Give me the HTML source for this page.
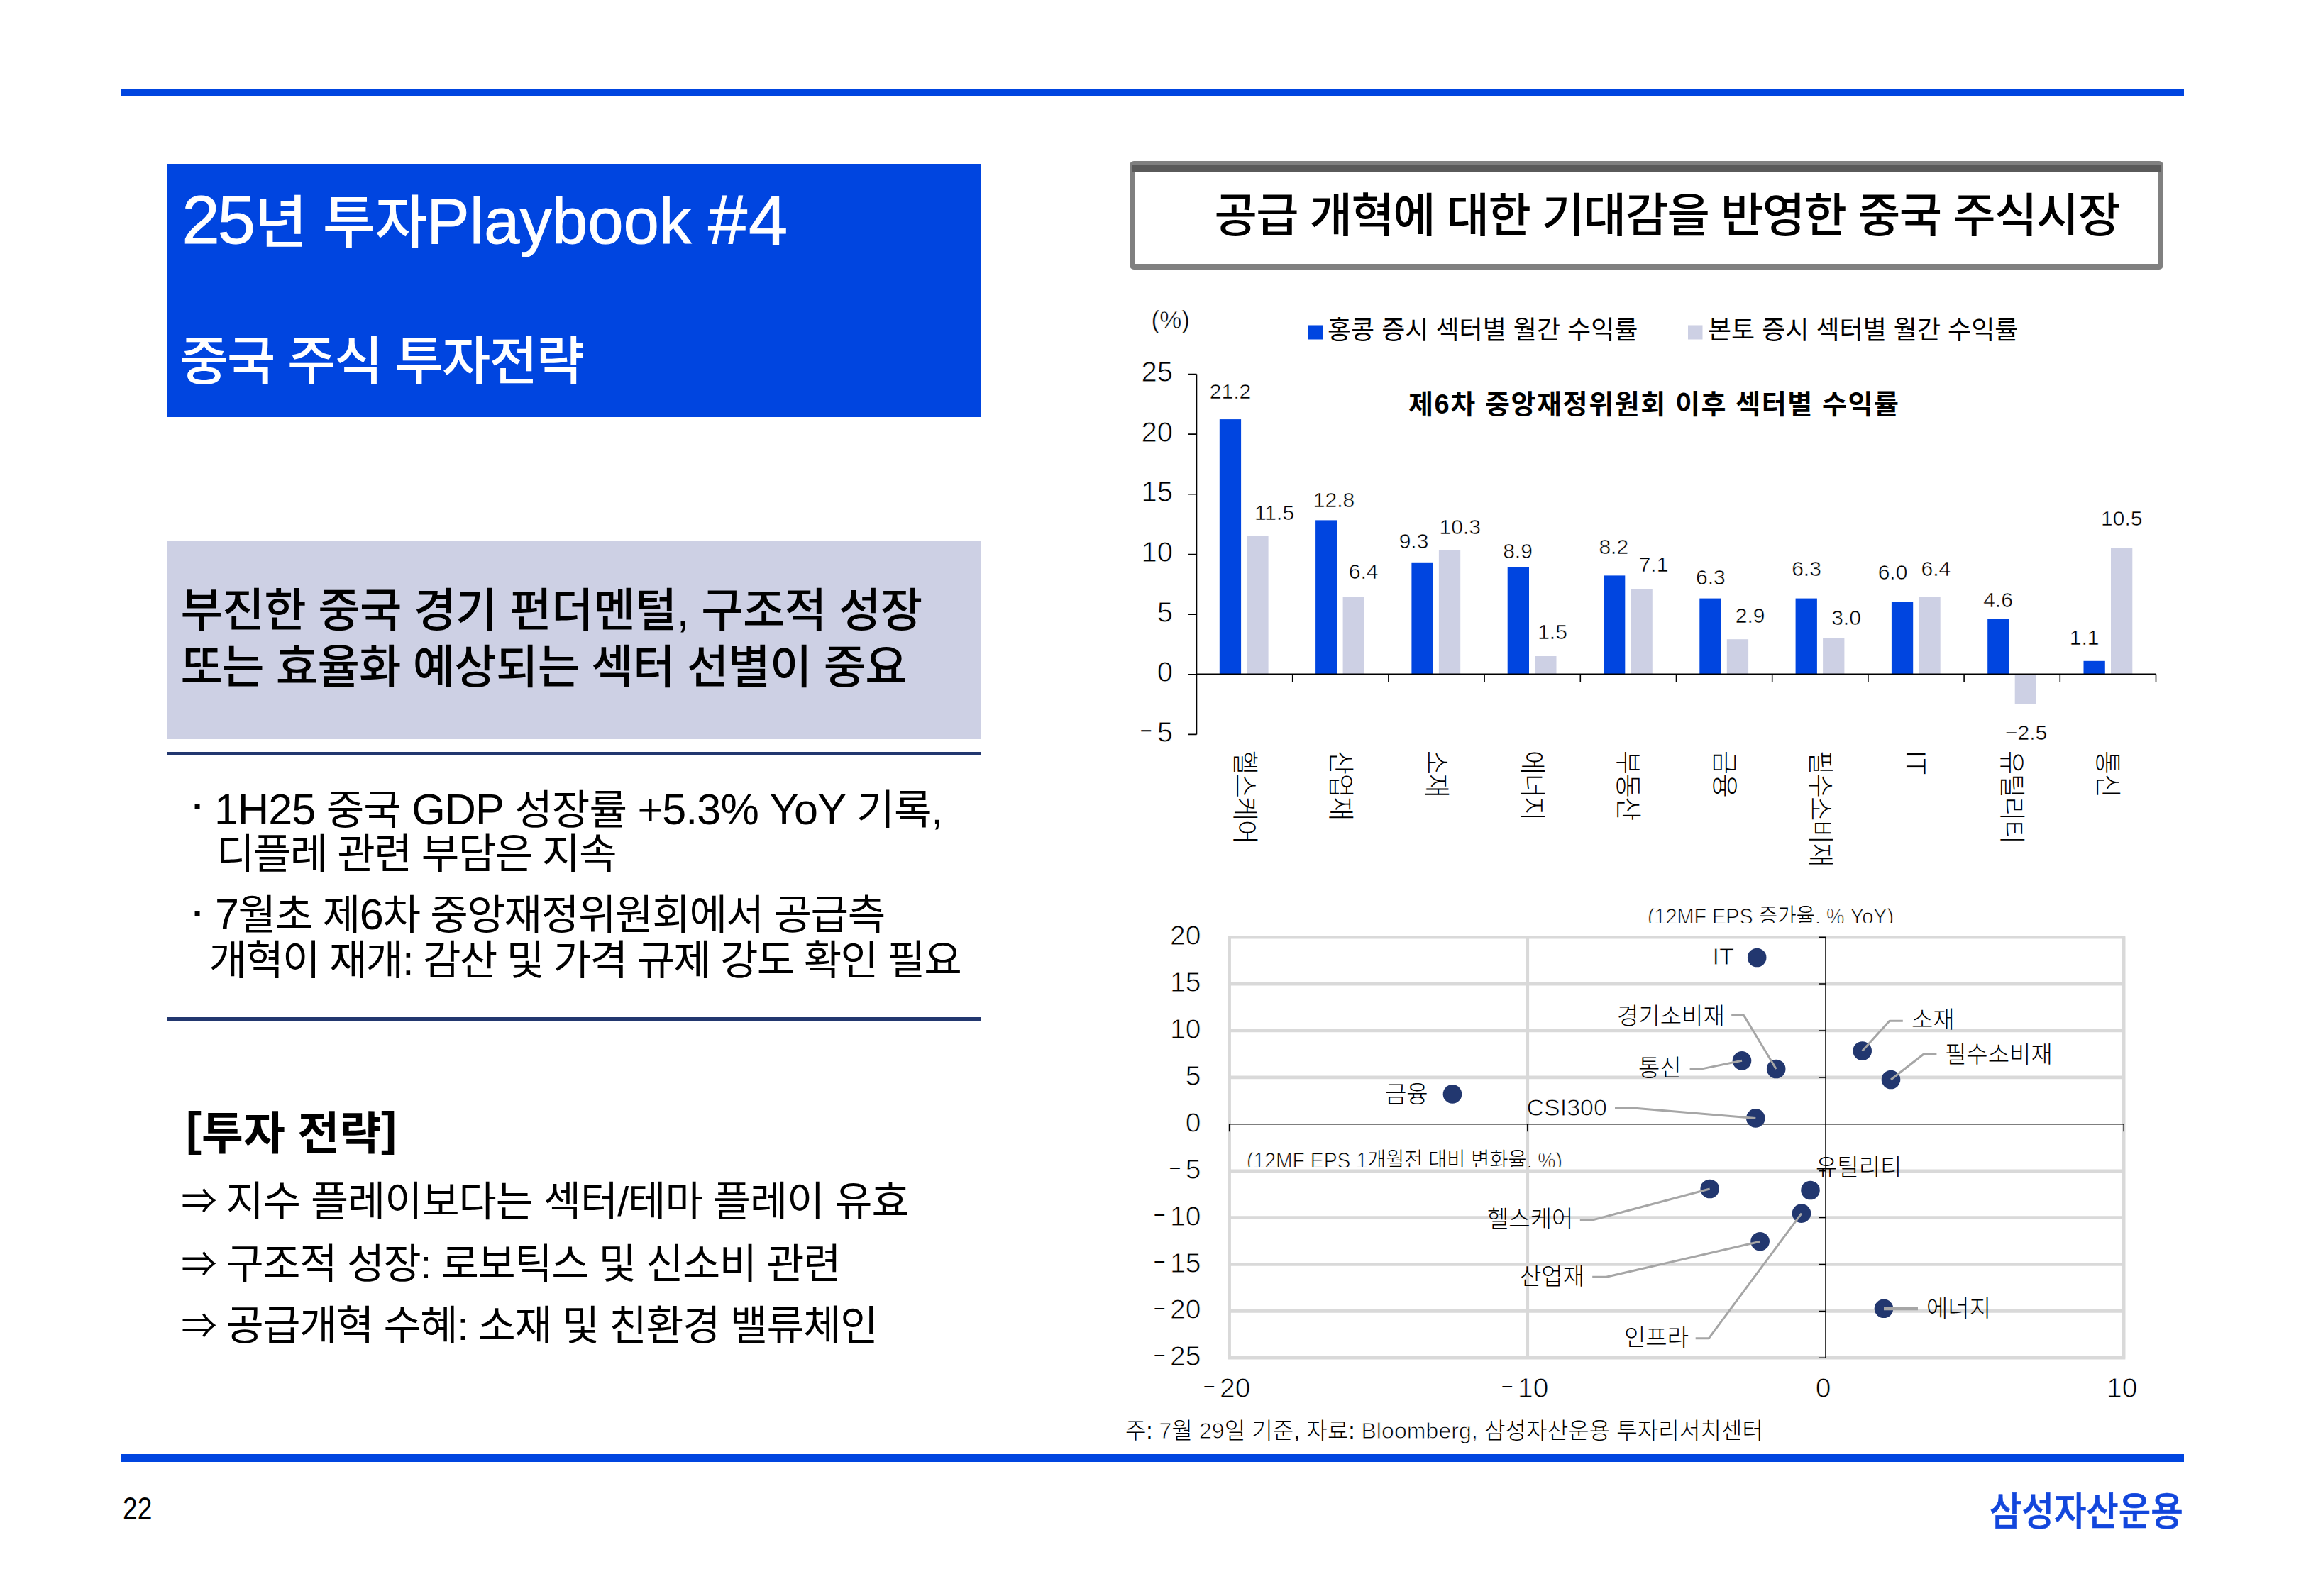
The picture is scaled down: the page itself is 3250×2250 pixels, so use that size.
<!DOCTYPE html>
<html lang="ko"><head><meta charset="utf-8"><title>slide</title><style>
html,body{margin:0;padding:0;background:#fff;}
body{width:3250px;height:2250px;position:relative;overflow:hidden;font-family:"Liberation Sans","Noto Sans CJK KR",sans-serif;color:#000;}
.abs{position:absolute;white-space:nowrap;line-height:1;}
svg text{font-family:"Liberation Sans","Noto Sans CJK KR",sans-serif;}
.th{stroke:#fff;stroke-width:0.8px;}
.th2{stroke:#fff;stroke-width:0.5px;}
</style></head><body>
<div class="abs" style="left:171px;top:126px;width:2907px;height:10px;background:#0045E0;"></div>
<div class="abs" style="left:171px;top:2050px;width:2907px;height:11px;background:#0045E0;"></div>
<div class="abs" style="left:235px;top:231px;width:1148px;height:357px;background:#0045E0;"></div>
<div class="abs" style="left:256.5px;top:262.0px;font-size:95.62px;font-weight:400;color:#fff;-webkit-text-stroke:1px #fff;letter-spacing:-2.99px;">25</div>
<div class="abs" style="left:359.0px;top:273.5px;font-size:80.43px;font-weight:500;color:#fff;letter-spacing:-0.30px;">년 투자</div>
<div class="abs" style="left:601.5px;top:267.5px;font-size:89.95px;font-weight:400;color:#fff;-webkit-text-stroke:1px #fff;letter-spacing:0.39px;">Playbook</div>
<div class="abs" style="left:998.0px;top:260.0px;font-size:99.08px;font-weight:400;color:#fff;-webkit-text-stroke:1px #fff;letter-spacing:1.91px;">#4</div>
<div class="abs" style="left:253.5px;top:473.0px;font-size:74.31px;font-weight:500;color:#fff;letter-spacing:-1.94px;">중국 주식 투자전략</div>
<div class="abs" style="left:235px;top:762px;width:1148px;height:280px;background:#CDD0E4;"></div>
<div class="abs" style="left:254.5px;top:829.0px;font-size:64.63px;font-weight:500;color:#000;letter-spacing:-0.62px;">부진한 중국 경기 펀더멘털, 구조적 성장</div>
<div class="abs" style="left:254.5px;top:908.5px;font-size:64.63px;font-weight:500;color:#000;letter-spacing:-0.83px;">또는 효율화 예상되는 섹터 선별이 중요</div>
<div class="abs" style="left:235px;top:1060px;width:1148px;height:5px;background:#22376F;"></div>
<div class="abs" style="left:235px;top:1434px;width:1148px;height:5px;background:#22376F;"></div>
<div class="abs" style="left:265.8px;top:1094.8px;font-size:74.0px;font-weight:400;color:#000;">·</div>
<div class="abs" style="left:265.8px;top:1246.0px;font-size:74.0px;font-weight:400;color:#000;">·</div>
<div class="abs" style="left:302.0px;top:1110.5px;font-size:58.22px;font-weight:400;color:#000;letter-spacing:-0.92px;"><span style="font-size:1.050em">1H25</span> 중국 <span style="font-size:1.050em">GDP</span> 성장률 <span style="font-size:1.050em">+5.3% YoY</span> 기록,</div>
<div class="abs" style="left:305.0px;top:1175.0px;font-size:58.22px;font-weight:400;color:#000;letter-spacing:-1.63px;">디플레 관련 부담은 지속</div>
<div class="abs" style="left:303.0px;top:1259.0px;font-size:58.22px;font-weight:400;color:#000;letter-spacing:-1.41px;"><span style="font-size:1.050em">7</span>월초 제<span style="font-size:1.050em">6</span>차 중앙재정위원회에서 공급측</div>
<div class="abs" style="left:294.5px;top:1324.5px;font-size:58.22px;font-weight:400;color:#000;letter-spacing:-1.86px;">개혁이 재개: 감산 및 가격 규제 강도 확인 필요</div>
<div class="abs" style="left:262.0px;top:1558.0px;font-size:66.18px;font-weight:700;color:#000;">[</div>
<div class="abs" style="left:284.0px;top:1566.0px;font-size:64.04px;font-weight:700;color:#000;">투자 전략</div>
<div class="abs" style="left:537.0px;top:1558.0px;font-size:66.18px;font-weight:700;color:#000;">]</div>
<div class="abs" style="left:318.5px;top:1665.5px;font-size:57.83px;font-weight:400;color:#000;letter-spacing:-1.03px;">지수 플레이보다는 섹터/테마 플레이 유효</div>
<div class="abs" style="left:318.5px;top:1754.0px;font-size:57.83px;font-weight:400;color:#000;letter-spacing:-1.38px;">구조적 성장: 로보틱스 및 신소비 관련</div>
<div class="abs" style="left:318.5px;top:1841.0px;font-size:57.83px;font-weight:400;color:#000;letter-spacing:-1.37px;">공급개혁 수혜: 소재 및 친환경 밸류체인</div>
<div class="abs" style="left:255.5px;top:1664.1px;font-size:50.14px;font-weight:400;color:#000;font-family:'Noto Sans CJK KR',sans-serif;">⇒</div>
<div class="abs" style="left:255.5px;top:1752.6px;font-size:50.14px;font-weight:400;color:#000;font-family:'Noto Sans CJK KR',sans-serif;">⇒</div>
<div class="abs" style="left:255.5px;top:1840.1px;font-size:50.14px;font-weight:400;color:#000;font-family:'Noto Sans CJK KR',sans-serif;">⇒</div>
<div class="abs" style="left:173.0px;top:2105.0px;font-size:44.2px;font-weight:400;color:#000;transform:scaleX(0.8396);transform-origin:0 0;">22</div>
<div class="abs" style="left:2804.0px;top:2104.0px;font-size:54.69px;font-weight:500;color:#1246DC;-webkit-text-stroke:0.7px #1246DC;transform:scaleX(0.9035);transform-origin:0 0;">삼성자산운용</div>
<div class="abs" style="left:1592px;top:227px;width:1441px;height:137px;border:8px solid #808080;border-radius:6px;background:#fff;"></div>
<div class="abs" style="left:1595px;top:232px;width:1450px;height:10px;background:#5a5a5a;"></div>
<div class="abs" style="left:1711.5px;top:271.5px;font-size:65.58px;font-weight:500;color:#000;letter-spacing:-1.54px;">공급 개혁에 대한 기대감을 반영한 중국 주식시장</div>
<svg class="abs" style="left:0;top:0" width="3250" height="2250" viewBox="0 0 3250 2250">
<rect x="1718.8" y="591.1" width="30.3" height="359.3" fill="#0045E0"/>
<rect x="1757.3" y="755.5" width="30.3" height="194.9" fill="#CDD0E4"/>
<rect x="1854.1" y="733.4" width="30.3" height="217.0" fill="#0045E0"/>
<rect x="1892.6" y="841.9" width="30.3" height="108.5" fill="#CDD0E4"/>
<rect x="1989.4" y="792.8" width="30.3" height="157.6" fill="#0045E0"/>
<rect x="2027.9" y="775.8" width="30.3" height="174.6" fill="#CDD0E4"/>
<rect x="2124.7" y="799.5" width="30.3" height="150.9" fill="#0045E0"/>
<rect x="2163.2" y="925.0" width="30.3" height="25.4" fill="#CDD0E4"/>
<rect x="2260.0" y="811.4" width="30.3" height="139.0" fill="#0045E0"/>
<rect x="2298.5" y="830.1" width="30.3" height="120.3" fill="#CDD0E4"/>
<rect x="2395.3" y="843.6" width="30.3" height="106.8" fill="#0045E0"/>
<rect x="2433.8" y="901.2" width="30.3" height="49.2" fill="#CDD0E4"/>
<rect x="2530.6" y="843.6" width="30.3" height="106.8" fill="#0045E0"/>
<rect x="2569.1" y="899.5" width="30.3" height="50.8" fill="#CDD0E4"/>
<rect x="2665.9" y="848.7" width="30.3" height="101.7" fill="#0045E0"/>
<rect x="2704.4" y="841.9" width="30.3" height="108.5" fill="#CDD0E4"/>
<rect x="2801.2" y="872.4" width="30.3" height="78.0" fill="#0045E0"/>
<rect x="2839.7" y="950.4" width="30.3" height="42.4" fill="#CDD0E4"/>
<rect x="2936.5" y="931.8" width="30.3" height="18.6" fill="#0045E0"/>
<rect x="2975.0" y="772.4" width="30.3" height="178.0" fill="#CDD0E4"/>
<path d="M1686.5 527.5V1035.5M1686.5 950.4H3038.5" stroke="#000" stroke-width="1.6" fill="none"/>
<path d="M1675 527.5H1686.5M1675 612.1H1686.5M1675 696.8H1686.5M1675 781.5H1686.5M1675 866.1H1686.5M1675 950.8H1686.5M1675 1035.4H1686.5M1821.7 950.4V962M1956.9 950.4V962M2092.1 950.4V962M2227.3 950.4V962M2362.5 950.4V962M2497.7 950.4V962M2632.9 950.4V962M2768.1 950.4V962M2903.3 950.4V962M3038.5 950.4V962" stroke="#000" stroke-width="1.6" fill="none"/>
<text x="1653" y="538.0" font-size="40" text-anchor="end" class="th">25</text>
<text x="1653" y="622.6" font-size="40" text-anchor="end" class="th">20</text>
<text x="1653" y="707.3" font-size="40" text-anchor="end" class="th">15</text>
<text x="1653" y="792.0" font-size="40" text-anchor="end" class="th">10</text>
<text x="1653" y="876.6" font-size="40" text-anchor="end" class="th">5</text>
<text x="1653" y="961.2" font-size="40" text-anchor="end" class="th">0</text>
<text x="1653" y="1045.9" font-size="40" text-anchor="end" class="th"><tspan font-size="28.8" dy="-6.0" stroke="none">−</tspan><tspan dy="6.0" dx="6.8">5</tspan></text>
<text x="1622.5" y="463" font-size="35" class="th2">(%)</text>
<rect x="1844" y="458.5" width="20" height="20" fill="#0045E0"/>
<text x="1871" y="478" font-size="36" font-weight="400">홍콩 증시 섹터별 월간 수익률</text>
<rect x="2379" y="458.5" width="20.5" height="20" fill="#CDD0E4"/>
<text x="2407" y="478" font-size="36" font-weight="400">본토 증시 섹터별 월간 수익률</text>
<text x="1985" y="583" font-size="38" font-weight="700" textLength="691" lengthAdjust="spacing">제6차 중앙재정위원회 이후 섹터별 수익률</text>
<text x="1734" y="561.6" font-size="30" text-anchor="middle" class="th2">21.2</text>
<text x="1796" y="732.7" font-size="30" text-anchor="middle" class="th2">11.5</text>
<text x="1880" y="714.5" font-size="30" text-anchor="middle" class="th2">12.8</text>
<text x="1921.6" y="816.3" font-size="30" text-anchor="middle" class="th2">6.4</text>
<text x="1992.5" y="773.4" font-size="30" text-anchor="middle" class="th2">9.3</text>
<text x="2057.8" y="753" font-size="30" text-anchor="middle" class="th2">10.3</text>
<text x="2139" y="787.2" font-size="30" text-anchor="middle" class="th2">8.9</text>
<text x="2188" y="901" font-size="30" text-anchor="middle" class="th2">1.5</text>
<text x="2274.3" y="780.7" font-size="30" text-anchor="middle" class="th2">8.2</text>
<text x="2330.5" y="806.4" font-size="30" text-anchor="middle" class="th2">7.1</text>
<text x="2410.9" y="823.6" font-size="30" text-anchor="middle" class="th2">6.3</text>
<text x="2466.6" y="878.2" font-size="30" text-anchor="middle" class="th2">2.9</text>
<text x="2546" y="812" font-size="30" text-anchor="middle" class="th2">6.3</text>
<text x="2602" y="880.7" font-size="30" text-anchor="middle" class="th2">3.0</text>
<text x="2667.5" y="817" font-size="30" text-anchor="middle" class="th2">6.0</text>
<text x="2728.4" y="811.8" font-size="30" text-anchor="middle" class="th2">6.4</text>
<text x="2816" y="856.4" font-size="30" text-anchor="middle" class="th2">4.6</text>
<text x="2855.6" y="1043" font-size="30" text-anchor="middle" class="th2">−2.5</text>
<text x="2937.7" y="909.3" font-size="30" text-anchor="middle" class="th2">1.1</text>
<text x="2990.3" y="741.4" font-size="30" text-anchor="middle" class="th2">10.5</text>
<text transform="translate(1740.6 1058) rotate(90)" font-size="37" font-weight="300" letter-spacing="-1.4">헬스케어</text>
<text transform="translate(1875.8 1058) rotate(90)" font-size="37" font-weight="300" letter-spacing="-1.4">산업재</text>
<text transform="translate(2011.0 1058) rotate(90)" font-size="37" font-weight="300" letter-spacing="-1.4">소재</text>
<text transform="translate(2146.2 1058) rotate(90)" font-size="37" font-weight="300" letter-spacing="-1.4">에너지</text>
<text transform="translate(2281.4 1058) rotate(90)" font-size="37" font-weight="300" letter-spacing="-1.4">부동산</text>
<text transform="translate(2416.6 1058) rotate(90)" font-size="37" font-weight="300" letter-spacing="-1.4">금융</text>
<text transform="translate(2551.8 1058) rotate(90)" font-size="37" font-weight="300" letter-spacing="-1.4">필수소비재</text>
<text transform="translate(2687.0 1058) rotate(90)" font-size="39" font-weight="300" letter-spacing="0" class="th">IT</text>
<text transform="translate(2822.2 1058) rotate(90)" font-size="37" font-weight="300" letter-spacing="-1.4">유틸리티</text>
<text transform="translate(2957.4 1058) rotate(90)" font-size="37" font-weight="300" letter-spacing="-1.4">통신</text>
<path d="M1730.3 1321.2H2995.4M1730.3 1387.1H2995.4M1730.3 1453.0H2995.4M1730.3 1518.9H2995.4M1730.3 1650.7H2995.4M1730.3 1716.6H2995.4M1730.3 1782.5H2995.4M1730.3 1848.4H2995.4M1730.3 1914.3H2995.4M1732.6 1321.2V1914.3M2152.8 1321.2V1914.3M2993.2 1321.2V1914.3" stroke="#D9D9D9" stroke-width="4.6" fill="none"/>
<path d="M1732.6 1584.8H2993M2573 1321.2V1914.3M2563 1321.2H2573M2563 1387.1H2573M2563 1453.0H2573M2563 1518.9H2573M2563 1650.7H2573M2563 1716.6H2573M2563 1782.5H2573M2563 1848.4H2573M2563 1914.3H2573M1732.6 1584.8v10.5M2152.8 1584.8v10.5M2993.2 1584.8v10.5" stroke="#000" stroke-width="1.5" fill="none"/>
<text x="1692.5" y="1332.2" font-size="39" text-anchor="end" class="th">20</text>
<text x="1692.5" y="1398.1" font-size="39" text-anchor="end" class="th">15</text>
<text x="1692.5" y="1464.0" font-size="39" text-anchor="end" class="th">10</text>
<text x="1692.5" y="1529.9" font-size="39" text-anchor="end" class="th">5</text>
<text x="1692.5" y="1595.8" font-size="39" text-anchor="end" class="th">0</text>
<text x="1692.5" y="1661.7" font-size="39" text-anchor="end" class="th"><tspan font-size="28.1" dy="-5.8" stroke="none">−</tspan><tspan dy="5.8" dx="6.6">5</tspan></text>
<text x="1692.5" y="1727.6" font-size="39" text-anchor="end" class="th"><tspan font-size="28.1" dy="-5.8" stroke="none">−</tspan><tspan dy="5.8" dx="6.6">10</tspan></text>
<text x="1692.5" y="1793.5" font-size="39" text-anchor="end" class="th"><tspan font-size="28.1" dy="-5.8" stroke="none">−</tspan><tspan dy="5.8" dx="6.6">15</tspan></text>
<text x="1692.5" y="1859.4" font-size="39" text-anchor="end" class="th"><tspan font-size="28.1" dy="-5.8" stroke="none">−</tspan><tspan dy="5.8" dx="6.6">20</tspan></text>
<text x="1692.5" y="1925.3" font-size="39" text-anchor="end" class="th"><tspan font-size="28.1" dy="-5.8" stroke="none">−</tspan><tspan dy="5.8" dx="6.6">25</tspan></text>
<text x="1762.5" y="1969.5" font-size="39" text-anchor="end" class="th"><tspan font-size="28.1" dy="-5.8" stroke="none">−</tspan><tspan dy="5.8" dx="6.6">20</tspan></text>
<text x="2182.5" y="1969.5" font-size="39" text-anchor="end" class="th"><tspan font-size="28.1" dy="-5.8" stroke="none">−</tspan><tspan dy="5.8" dx="6.6">10</tspan></text>
<text x="2569.7" y="1969.5" font-size="39" text-anchor="middle" class="th">0</text>
<text x="2990.7" y="1969.5" font-size="39" text-anchor="middle" class="th">10</text>
<clipPath id="c1"><rect x="2300" y="1260" width="420" height="41"/></clipPath>
<clipPath id="c2"><rect x="1740" y="1600" width="480" height="45"/></clipPath>
<text x="2322" y="1302.5" font-size="32" font-weight="300" textLength="347" lengthAdjust="spacingAndGlyphs" clip-path="url(#c1)"><tspan class="th">(12MF EPS</tspan> 증가율<tspan class="th">, % YoY)</tspan></text>
<text x="1757" y="1647" font-size="32" font-weight="300" textLength="445" lengthAdjust="spacingAndGlyphs" clip-path="url(#c2)"><tspan class="th">(12MF EPS 1</tspan>개월전 대비 변화율<tspan class="th">, %)</tspan></text>
<circle cx="2476.2" cy="1350" r="13.3" fill="#22376F"/>
<circle cx="2455" cy="1495.3" r="13.3" fill="#22376F"/>
<circle cx="2503.2" cy="1507" r="13.3" fill="#22376F"/>
<circle cx="2474.3" cy="1576.4" r="13.3" fill="#22376F"/>
<circle cx="2624.7" cy="1481.5" r="13.3" fill="#22376F"/>
<circle cx="2665" cy="1522" r="13.3" fill="#22376F"/>
<circle cx="2409.7" cy="1676" r="13.3" fill="#22376F"/>
<circle cx="2551.5" cy="1678" r="13.3" fill="#22376F"/>
<circle cx="2539" cy="1710.6" r="13.3" fill="#22376F"/>
<circle cx="2480.6" cy="1750.2" r="13.3" fill="#22376F"/>
<circle cx="2047" cy="1542.4" r="13.3" fill="#22376F"/>
<circle cx="2655" cy="1844.8" r="13.3" fill="#22376F"/>
<path d="M2440.2 1431.4L2457.7 1431.4L2503.2 1507" stroke="#A6A6A6" stroke-width="3" fill="none" stroke-linejoin="round"/>
<path d="M2381.6 1506.6L2399.8 1506.6L2455 1495.3" stroke="#A6A6A6" stroke-width="3" fill="none" stroke-linejoin="round"/>
<path d="M2276 1561.4L2295.4 1561.4L2474.3 1576.4" stroke="#A6A6A6" stroke-width="3" fill="none" stroke-linejoin="round"/>
<path d="M2681.8 1439.2L2663 1439.2L2624.7 1481.5" stroke="#A6A6A6" stroke-width="3" fill="none" stroke-linejoin="round"/>
<path d="M2729.4 1486.5L2710.6 1486.5L2665 1522" stroke="#A6A6A6" stroke-width="3" fill="none" stroke-linejoin="round"/>
<path d="M2226.8 1719.6L2245.8 1719.6L2409.7 1676" stroke="#A6A6A6" stroke-width="3" fill="none" stroke-linejoin="round"/>
<path d="M2244.2 1800.2L2263.9 1800.2L2480.6 1750.2" stroke="#A6A6A6" stroke-width="3" fill="none" stroke-linejoin="round"/>
<path d="M2389.7 1886.7L2408.4 1886.7L2539 1710.6" stroke="#A6A6A6" stroke-width="3" fill="none" stroke-linejoin="round"/>
<path d="M2655 1845H2703" stroke="#A6A6A6" stroke-width="4.5" fill="none"/>
<text x="2413.5" y="1360.3" font-size="34" font-weight="300" class="th">IT</text>
<text x="2279" y="1444" font-size="33" font-weight="300">경기소비재</text>
<text x="2309" y="1517" font-size="33" font-weight="300">통신</text>
<text x="1952" y="1554" font-size="33" font-weight="300">금융</text>
<text x="2151.5" y="1572.7" font-size="34" font-weight="300" class="th">CSI300</text>
<text x="2694" y="1449" font-size="33" font-weight="300">소재</text>
<text x="2741" y="1498" font-size="33" font-weight="300">필수소비재</text>
<text x="2559" y="1657" font-size="33" font-weight="300">유틸리티</text>
<text x="2096" y="1730" font-size="33" font-weight="300">헬스케어</text>
<text x="2142" y="1811" font-size="33" font-weight="300">산업재</text>
<text x="2289" y="1897" font-size="33" font-weight="300">인프라</text>
<text x="2715" y="1856" font-size="33" font-weight="300">에너지</text>
<text x="1586" y="2028" font-size="32" font-weight="300" textLength="899" lengthAdjust="spacing">주: <tspan class="th">7</tspan>월 <tspan class="th">29</tspan>일 기준, 자료: <tspan class="th">Bloomberg,</tspan> 삼성자산운용 투자리서치센터</text>
</svg>
</body></html>
